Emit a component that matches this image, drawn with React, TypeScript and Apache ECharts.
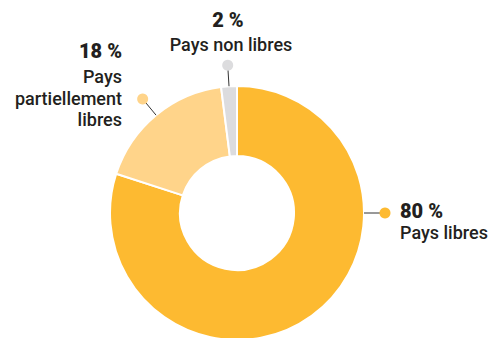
import React, { useEffect, useRef } from "react";
import * as echarts from "echarts";

const categories = ["Pays libres", "Pays partiellement libres", "Pays non libres"];
const displayNames = ["Pays libres", "Pays\npartiellement\nlibres", "Pays non libres"];
const values = [80, 18, 2];
const percentLabels = ["80 %", "18 %", "2 %"];
const colors = ["#FDBA31", "#FFD48A", "#DCDCDE"];

export default function App() {
  const ref = useRef<HTMLDivElement>(null);
  useEffect(() => {
    if (!ref.current) return;
    const chart = echarts.init(ref.current, null, { renderer: "svg" });
    const cx = 237, cy = 213, R = 127, r = 57;
    const total = values.reduce((a, b) => a + b, 0);
    let cum = 0;
    const mids = values.map((v) => {
      const m = ((cum + v / 2) / total) * 360;
      cum += v;
      return m;
    });
    const anchorAngles = [90, mids[1], mids[2]];
    const dotDist = 148;
    const graphics: any[] = [];
    anchorAngles.forEach((a, i) => {
      const rad = (a * Math.PI) / 180;
      const sx = Math.sin(rad), sy = -Math.cos(rad);
      graphics.push({
        type: "line",
        shape: { x1: cx + R * sx, y1: cy + R * sy, x2: cx + (dotDist - 4) * sx, y2: cy + (dotDist - 4) * sy },
        style: { stroke: "#333", lineWidth: 1 },
        z: 10,
      });
      graphics.push({
        type: "circle",
        shape: { cx: cx + dotDist * sx, cy: cy + dotDist * sy, r: 5.5 },
        style: { fill: colors[i] },
        z: 11,
      });
    });
    const fontFamily = "Roboto, 'Noto Sans', sans-serif";
    const textColor = "#231F20";
    const pctFont = `900 20px ${fontFamily}`;
    const nameFont = `500 18px ${fontFamily}`;
    // 80 %
    graphics.push({ type: "text", x: 400, y: 211, style: { text: percentLabels[0], font: pctFont, fill: textColor, textAlign: "left", textVerticalAlign: "middle" } });
    graphics.push({ type: "text", x: 400, y: 232, style: { text: displayNames[0], font: nameFont, fill: textColor, textAlign: "left", textVerticalAlign: "middle" } });
    // 18 %
    graphics.push({ type: "text", x: 122, y: 51, style: { text: percentLabels[1], font: pctFont, fill: textColor, textAlign: "right", textVerticalAlign: "middle" } });
    graphics.push({ type: "text", x: 122, y: 66, style: { text: displayNames[1], font: nameFont, fill: textColor, textAlign: "right", textVerticalAlign: "top", lineHeight: 21.5 } });
    // 2 %
    graphics.push({ type: "text", x: 228, y: 20, style: { text: percentLabels[2], font: pctFont, fill: textColor, textAlign: "center", textVerticalAlign: "middle" } });
    graphics.push({ type: "text", x: 231, y: 44, style: { text: displayNames[2], font: nameFont, fill: textColor, textAlign: "center", textVerticalAlign: "middle" } });

    chart.setOption({
      animation: false,
      backgroundColor: "#ffffff",
      series: [
        {
          type: "pie",
          center: [cx, cy],
          radius: [r, R],
          startAngle: 90,
          clockwise: true,
          label: { show: false },
          labelLine: { show: false },
          itemStyle: { borderColor: "#ffffff", borderWidth: 2 },
          emphasis: { disabled: true },
          data: categories.map((c, i) => ({ name: c, value: values[i], itemStyle: { color: colors[i] } })),
        },
      ],
      graphic: graphics,
    });
    return () => chart.dispose();
  }, []);
  return <div ref={ref} style={{ position: "fixed", left: 0, top: 0, width: 494, height: 338 }} />;
}
